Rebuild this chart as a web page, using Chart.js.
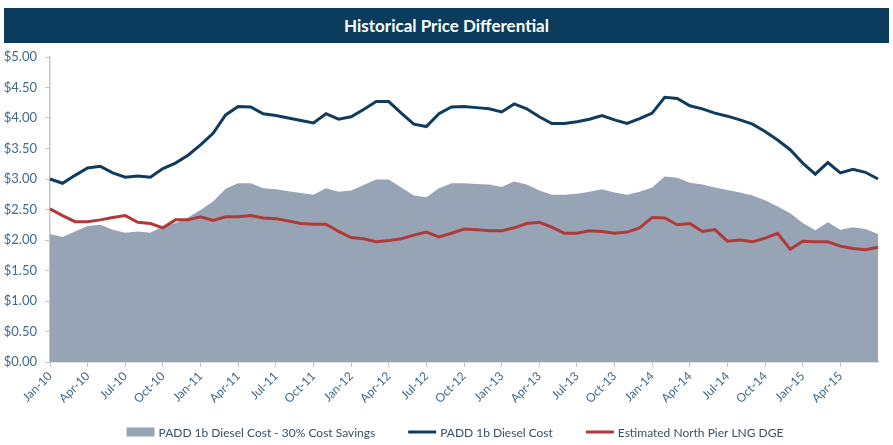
<!DOCTYPE html>
<html>
<head>
<meta charset="utf-8">
<script src="https://cdn.jsdelivr.net/npm/chart.js@4/dist/chart.umd.min.js"></script>
<style>
  body { margin: 0; background: #fff; }
  .wrap { position: relative; width: 893px; height: 445px; }
  .title-bar {
    position: absolute; left: 4px; top: 8px; width: 885px; height: 35px;
    background: #0b3c5d; color: #fff; text-align: center;
    font: bold 17px Lato, sans-serif; line-height: 35px;
  }
  canvas { position: absolute; left: 0; top: 0; }
</style>
</head>
<body>
<div class="wrap">
  <canvas id="priceChart" width="893" height="445"></canvas>
  <div class="title-bar">Historical Price Differential</div>
</div>
<script>
const months = [
  'Jan-10','Feb-10','Mar-10','Apr-10','May-10','Jun-10','Jul-10','Aug-10','Sep-10','Oct-10','Nov-10','Dec-10',
  'Jan-11','Feb-11','Mar-11','Apr-11','May-11','Jun-11','Jul-11','Aug-11','Sep-11','Oct-11','Nov-11','Dec-11',
  'Jan-12','Feb-12','Mar-12','Apr-12','May-12','Jun-12','Jul-12','Aug-12','Sep-12','Oct-12','Nov-12','Dec-12',
  'Jan-13','Feb-13','Mar-13','Apr-13','May-13','Jun-13','Jul-13','Aug-13','Sep-13','Oct-13','Nov-13','Dec-13',
  'Jan-14','Feb-14','Mar-14','Apr-14','May-14','Jun-14','Jul-14','Aug-14','Sep-14','Oct-14','Nov-14','Dec-14',
  'Jan-15','Feb-15','Mar-15','Apr-15','May-15','Jun-15','Jul-15'
];

// PADD 1b Diesel Cost
const dieselCost = [
  3.00, 2.93, 3.06, 3.18, 3.21, 3.10, 3.03, 3.05, 3.03, 3.17, 3.26, 3.39,
  3.56, 3.75, 4.05, 4.19, 4.18, 4.07, 4.04, 4.00, 3.96, 3.92, 4.07, 3.98,
  4.02, 4.14, 4.27, 4.27, 4.08, 3.90, 3.86, 4.07, 4.18, 4.19, 4.17, 4.15,
  4.10, 4.23, 4.15, 4.02, 3.91, 3.91, 3.94, 3.98, 4.04, 3.97, 3.91, 3.99,
  4.08, 4.34, 4.32, 4.20, 4.15, 4.08, 4.03, 3.97, 3.90, 3.78, 3.64, 3.48,
  3.26, 3.08, 3.27, 3.10, 3.16, 3.11, 3.00
];

// PADD 1b Diesel Cost - 30% Cost Savings
const dieselSavings = [
  2.10, 2.05, 2.14, 2.23, 2.25, 2.17, 2.12, 2.14, 2.12, 2.22, 2.28, 2.37,
  2.49, 2.63, 2.84, 2.93, 2.93, 2.85, 2.83, 2.80, 2.77, 2.74, 2.85, 2.79,
  2.81, 2.90, 2.99, 2.99, 2.86, 2.73, 2.70, 2.85, 2.93, 2.93, 2.92, 2.91,
  2.87, 2.96, 2.91, 2.81, 2.74, 2.74, 2.76, 2.79, 2.83, 2.78, 2.74, 2.79,
  2.86, 3.04, 3.02, 2.94, 2.91, 2.86, 2.82, 2.78, 2.73, 2.65, 2.55, 2.44,
  2.28, 2.16, 2.29, 2.17, 2.21, 2.18, 2.10
];

// Estimated North Pier LNG DGE
const lngDge = [
  2.51, 2.40, 2.30, 2.30, 2.33, 2.37, 2.40, 2.29, 2.27, 2.20, 2.33, 2.33,
  2.38, 2.32, 2.38, 2.38, 2.40, 2.36, 2.35, 2.31, 2.27, 2.26, 2.26, 2.14,
  2.04, 2.02, 1.97, 1.99, 2.02, 2.08, 2.13, 2.05, 2.11, 2.18, 2.17, 2.15,
  2.15, 2.20, 2.27, 2.29, 2.21, 2.11, 2.11, 2.15, 2.14, 2.11, 2.13, 2.20,
  2.37, 2.36, 2.25, 2.27, 2.14, 2.17, 1.98, 2.00, 1.97, 2.03, 2.11, 1.85,
  1.98, 1.97, 1.97, 1.90, 1.86, 1.84, 1.88
];

const tickColor = '#41698a';
const axisColor = '#c4c4c4';

// bottom legend, drawn by hand so the spacing matches
const legendPlugin = {
    id: 'bottomLegend',
    afterDraw(chart) {
        const ctx = chart.ctx;
        const items = chart.data.datasets.map(ds => ({
            text: ds.label,
            color: ds.fill ? ds.backgroundColor : ds.borderColor,
            box: !!ds.fill
        }));
        const symW = 28, gap = 4, itemGap = 33, y = 432;
        ctx.save();
        ctx.font = '12px Lato';
        let total = 0;
        items.forEach((it, i) => {
            it.w = symW + gap + ctx.measureText(it.text).width;
            total += it.w + (i > 0 ? itemGap : 0);
        });
        let x = 455 - total / 2;
        ctx.textBaseline = 'middle';
        items.forEach(it => {
            if (it.box) {
                ctx.fillStyle = it.color;
                ctx.fillRect(x, y - 4.5, symW, 9);
            } else {
                ctx.strokeStyle = it.color;
                ctx.lineWidth = 3;
                ctx.beginPath();
                ctx.moveTo(x, y);
                ctx.lineTo(x + symW, y);
                ctx.stroke();
            }
            ctx.fillStyle = '#3d4f63';
            ctx.fillText(it.text, x + symW + gap, y + 1);
            x += it.w + itemGap;
        });
        ctx.restore();
    }
};

Chart.defaults.font.family = 'Lato';

const ctx = document.getElementById('priceChart').getContext('2d');
new Chart(ctx, {
    type: 'line',
    data: {
        labels: months,
        datasets: [
            {
                label: 'PADD 1b Diesel Cost - 30% Cost Savings',
                data: dieselSavings,
                fill: 'origin',
                backgroundColor: '#97a4b5',
                borderColor: '#97a4b5',
                borderWidth: 0,
                pointRadius: 0,
                tension: 0,
                order: 3
            },
            {
                label: 'PADD 1b Diesel Cost',
                data: dieselCost,
                fill: false,
                borderColor: '#0f3c5e',
                borderWidth: 3,
                pointRadius: 0,
                tension: 0,
                order: 2
            },
            {
                label: 'Estimated North Pier LNG DGE',
                data: lngDge,
                fill: false,
                borderColor: '#b03a37',
                borderWidth: 3,
                pointRadius: 0,
                tension: 0,
                order: 1
            }
        ]
    },
    options: {
        responsive: false,
        animation: false,
        layout: {
            padding: { top: 57, right: 15, bottom: 33, left: 0 }
        },
        plugins: {
            legend: { display: false },
            tooltip: { enabled: false }
        },
        scales: {
            y: {
                min: 0,
                max: 5,
                ticks: {
                    stepSize: 0.5,
                    color: tickColor,
                    padding: 8,
                    font: { size: 13 },
                    callback: (v) => '$' + v.toFixed(2)
                },
                grid: {
                    drawOnChartArea: false,
                    drawTicks: true,
                    tickLength: 5,
                    color: axisColor
                },
                border: { display: true, color: axisColor, width: 1.5 },
                afterFit: (scale) => { scale.width = 50; }
            },
            x: {
                ticks: {
                    autoSkip: false,
                    maxRotation: 45,
                    minRotation: 45,
                    color: tickColor,
                    padding: 2,
                    font: { size: 12 },
                    // quarterly labels, the last month has none
                    callback: (v, i) => (i % 3 === 0 && i < months.length - 1 ? months[i] : null)
                },
                grid: {
                    drawOnChartArea: false,
                    drawTicks: true,
                    tickLength: 5,
                    color: axisColor
                },
                border: { display: true, color: axisColor, width: 1.5 },
                afterFit: (scale) => { scale.height = 50; }
            }
        }
    },
    plugins: [legendPlugin]
});
</script>
</body>
</html>
